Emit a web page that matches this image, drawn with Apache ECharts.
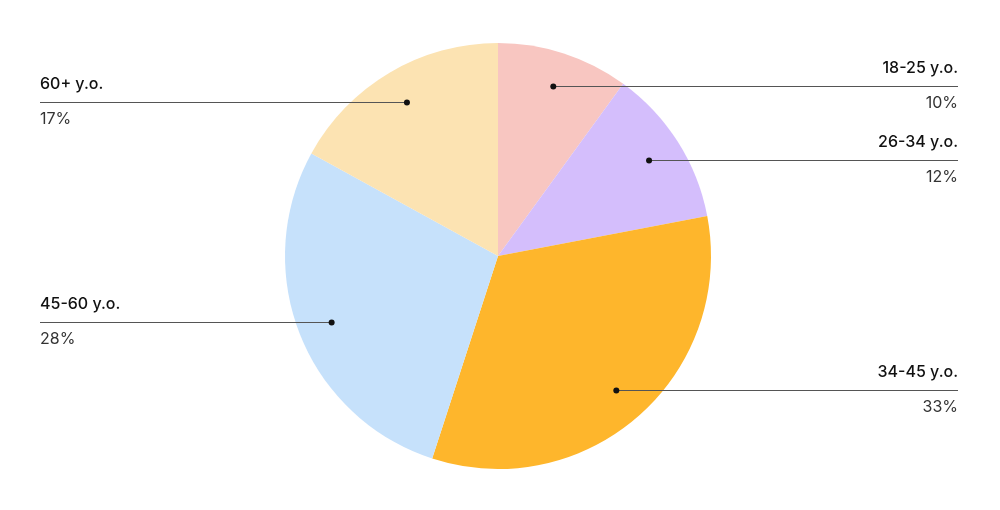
<!DOCTYPE html>
<html><head><meta charset="utf-8">
<script src="https://cdn.jsdelivr.net/npm/echarts@6/dist/echarts.min.js"></script>
<style>html,body{margin:0;padding:0;background:#fff}#c{width:1000px;height:510px}</style>
</head><body><div id="c"></div>
<script>
const categories = ['18-25 y.o.', '26-34 y.o.', '34-45 y.o.', '45-60 y.o.', '60+ y.o.'];
const shares = [10, 12, 33, 28, 17];
const shareLabels = ['10%', '12%', '33%', '28%', '17%'];
const colors = ['#F8C6C1', '#D4BEFC', '#FEB62C', '#C6E1FB', '#FCE3B2'];

const FONT = 'Inter, "Noto Sans", sans-serif';
const chart = echarts.init(document.getElementById('c'), null, {renderer: 'canvas'});
chart.setOption({
  animation: false,
  backgroundColor: '#ffffff',
  series: [{
    type: 'pie',
    center: [498, 256],
    radius: 213,
    startAngle: 90,
    clockwise: true,
    silent: true,
    label: {show: false},
    labelLine: {show: false},
    itemStyle: {borderWidth: 0},
    data: categories.map((c, i) => ({name: c, value: shares[i], itemStyle: {color: colors[i]}}))
  }]
});

function annotate() {
  const data = chart.getModel().getSeriesByIndex(0).getData();
  const els = [];
  data.each(function (idx) {
    const l = data.getItemLayout(idx);
    const mid = (l.startAngle + l.endAngle) / 2;
    const rr = l.r * 0.84;
    const dx = l.cx + rr * Math.cos(mid);
    const dy = Math.round(l.cy + rr * Math.sin(mid)) + 0.5;
    const right = Math.cos(mid) >= 0;
    const endX = right ? 958 : 40;
    els.push({type: 'line', silent: true, z: 10,
      shape: {x1: dx, y1: dy, x2: endX, y2: dy},
      style: {stroke: '#555', lineWidth: 1}});
    els.push({type: 'circle', silent: true, z: 11,
      shape: {cx: dx, cy: dy, r: 3}, style: {fill: '#111'}});
    els.push({type: 'text', silent: true, z: 11,
      x: endX, y: dy - 18,
      style: {text: categories[idx], font: '500 16px ' + FONT, fill: '#111',
        align: right ? 'right' : 'left', verticalAlign: 'middle'}});
    els.push({type: 'text', silent: true, z: 11,
      x: endX, y: dy + 17,
      style: {text: shareLabels[idx], font: '400 16px ' + FONT, fill: '#333',
        align: right ? 'right' : 'left', verticalAlign: 'middle'}});
  });
  chart.setOption({graphic: {elements: els}});
}
annotate();
</script>
</body></html>
